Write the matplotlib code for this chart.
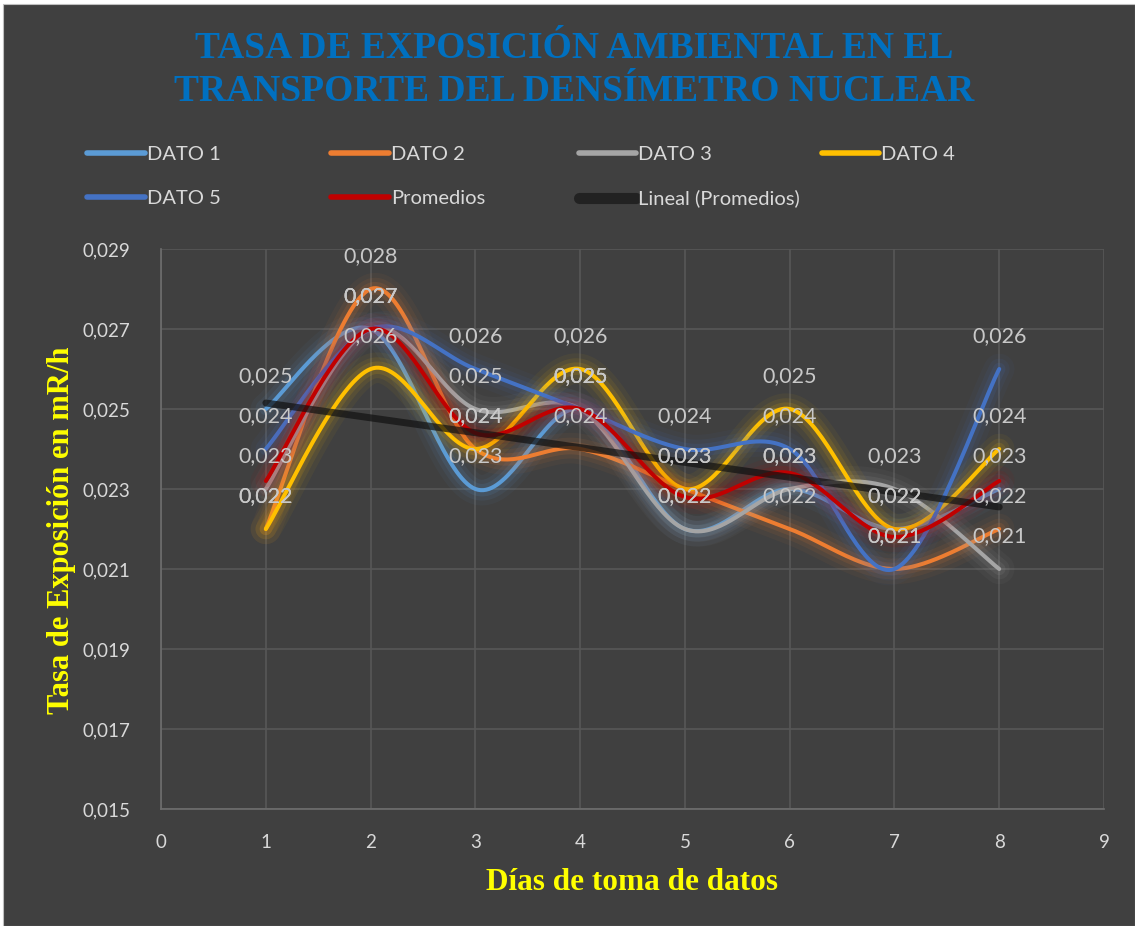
import numpy as np
import matplotlib
matplotlib.use('Agg')
import matplotlib.pyplot as plt
import matplotlib.patheffects as pe
from matplotlib.lines import Line2D
from matplotlib.patches import Rectangle

# data
dias = [1, 2, 3, 4, 5, 6, 7, 8]
dato1 = [0.025, 0.027, 0.023, 0.025, 0.022, 0.023, 0.022, 0.023]
dato2 = [0.022, 0.028, 0.024, 0.024, 0.023, 0.022, 0.021, 0.022]
dato3 = [0.023, 0.027, 0.025, 0.025, 0.022, 0.023, 0.023, 0.021]
dato4 = [0.022, 0.026, 0.024, 0.026, 0.023, 0.025, 0.022, 0.024]
dato5 = [0.024, 0.027, 0.026, 0.025, 0.024, 0.024, 0.021, 0.026]
promedios = list(np.mean([dato1, dato2, dato3, dato4, dato5], axis=0))

nombres = ['DATO 1', 'DATO 2', 'DATO 3', 'DATO 4', 'DATO 5', 'Promedios']
colores = ['#5B9BD5', '#ED7D31', '#A5A5A5', '#FFC000', '#4472C4', '#C00000']
series = [dato1, dato2, dato3, dato4, dato5, promedios]

BG = '#404040'
TXT = '#D9D9D9'


def smooth(x, y, n=40):
    # catmull-rom style bezier, like excel's smoothed line
    x = np.asarray(x, float)
    y = np.asarray(y, float)
    P = np.column_stack([x, y])
    P = np.vstack([P[0], P, P[-1]])
    t = np.linspace(0, 1, n)[:, None]
    out = []
    for i in range(1, len(P) - 2):
        p0, p1, p2, p3 = P[i - 1], P[i], P[i + 1], P[i + 2]
        b1 = p1 + (p2 - p0) / 6
        b2 = p2 - (p3 - p1) / 6
        seg = ((1 - t) ** 3) * p1 + 3 * ((1 - t) ** 2) * t * b1 + 3 * (1 - t) * t ** 2 * b2 + t ** 3 * p2
        out.append(seg if i == 1 else seg[1:])
    out = np.vstack(out)
    return out[:, 0], out[:, 1]


def glow(color):
    return [pe.Stroke(linewidth=22, foreground=color, alpha=0.05),
            pe.Stroke(linewidth=15, foreground=color, alpha=0.08),
            pe.Stroke(linewidth=9, foreground=color, alpha=0.12),
            pe.Normal()]


fig = plt.figure(figsize=(11.35, 9.26), dpi=100, facecolor='white')
fig.patches.append(Rectangle((0.003, 0), 0.997, 0.996, transform=fig.transFigure,
                             facecolor=BG, edgecolor='#BFBFBF', linewidth=0.8, zorder=-10))

ax = fig.add_axes([0.1419, 0.1264, 0.8308, 0.6047])
ax.set_facecolor(BG)

for nombre, col, ys in zip(nombres, colores, series):
    sx, sy = smooth(dias, ys)
    ax.plot(sx, sy, color=col, lw=2.9, solid_capstyle='round',
            path_effects=glow(col), zorder=3)

# linear trend of the averages
m, b = np.polyfit(dias, promedios, 1)
xt = np.array([dias[0], dias[-1]])
ax.plot(xt, m * xt + b, color='#111111', alpha=0.7, lw=5, solid_capstyle='round', zorder=4)

# data labels (the five DATO series)
for ys in series[:5]:
    for xv, yv in zip(dias, ys):
        ax.annotate(('%.3f' % yv).replace('.', ','), (xv, yv), xytext=(0, 33),
                    textcoords='offset pixels', ha='center', va='center',
                    fontsize=15.5, color='#C8C8C8', family='Lato', zorder=5)

ax.set_xlim(0, 9)
ax.set_ylim(0.015, 0.029)
ax.set_xticks(range(0, 10))
yt = np.arange(0.015, 0.0291, 0.002)
ax.set_yticks(yt)
ax.set_yticklabels([('%.3f' % v).replace('.', ',') for v in yt])
ax.grid(True, color='#575757', lw=1.2)
ax.set_axisbelow(True)
for s in ['top', 'right']:
    ax.spines[s].set_visible(False)
for s in ['left', 'bottom']:
    ax.spines[s].set_color('#6E6E6E')
    ax.spines[s].set_linewidth(1.2)
ax.tick_params(length=0, colors=TXT, labelsize=13.5)
ax.tick_params(axis='y', pad=22)
ax.tick_params(axis='x', pad=18)
for lab in ax.get_xticklabels() + ax.get_yticklabels():
    lab.set_family('Lato')

fig.text(0.5057, 0.9472, 'TASA DE EXPOSICIÓN AMBIENTAL EN EL', ha='center', va='center',
         family='Liberation Serif', weight='bold', fontsize=27, color='#0070C0')
fig.text(0.5057, 0.9010, 'TRANSPORTE DEL DENSÍMETRO NUCLEAR', ha='center', va='center',
         family='Liberation Serif', weight='bold', fontsize=27, color='#0070C0')

fig.text(0.5568, 0.0475, 'Días de toma de datos', ha='center', va='center',
         family='Liberation Serif', weight='bold', fontsize=22.5, color='#FFFF00')
fig.text(0.0546, 0.4276, 'Tasa de Exposición en mR/h', ha='center', va='center', rotation=90,
         family='Liberation Serif', weight='bold', fontsize=22, color='#FFFF00')

# legend, four columns placed by hand
handles = [Line2D([], [], color=c, lw=4, solid_capstyle='round') for c in colores]
handles.append(Line2D([], [], color='#222222', lw=8, solid_capstyle='round'))
labels = nombres + ['Lineal (Promedios)']
columnas = [[0, 4], [1, 5], [2, 6], [3]]
xcol = [0.061, 0.276, 0.494, 0.708]
for xc, idx in zip(xcol, columnas):
    leg = fig.legend([handles[i] for i in idx], [labels[i] for i in idx],
                     loc='upper left', bbox_to_anchor=(xc, 0.8615), frameon=False,
                     handlelength=2.85, handletextpad=0.1, labelspacing=1.3,
                     prop={'family': 'Lato', 'size': 14.5})
    for t in leg.get_texts():
        t.set_color(TXT)

fig.savefig('out.png', dpi=100, facecolor=fig.get_facecolor())
